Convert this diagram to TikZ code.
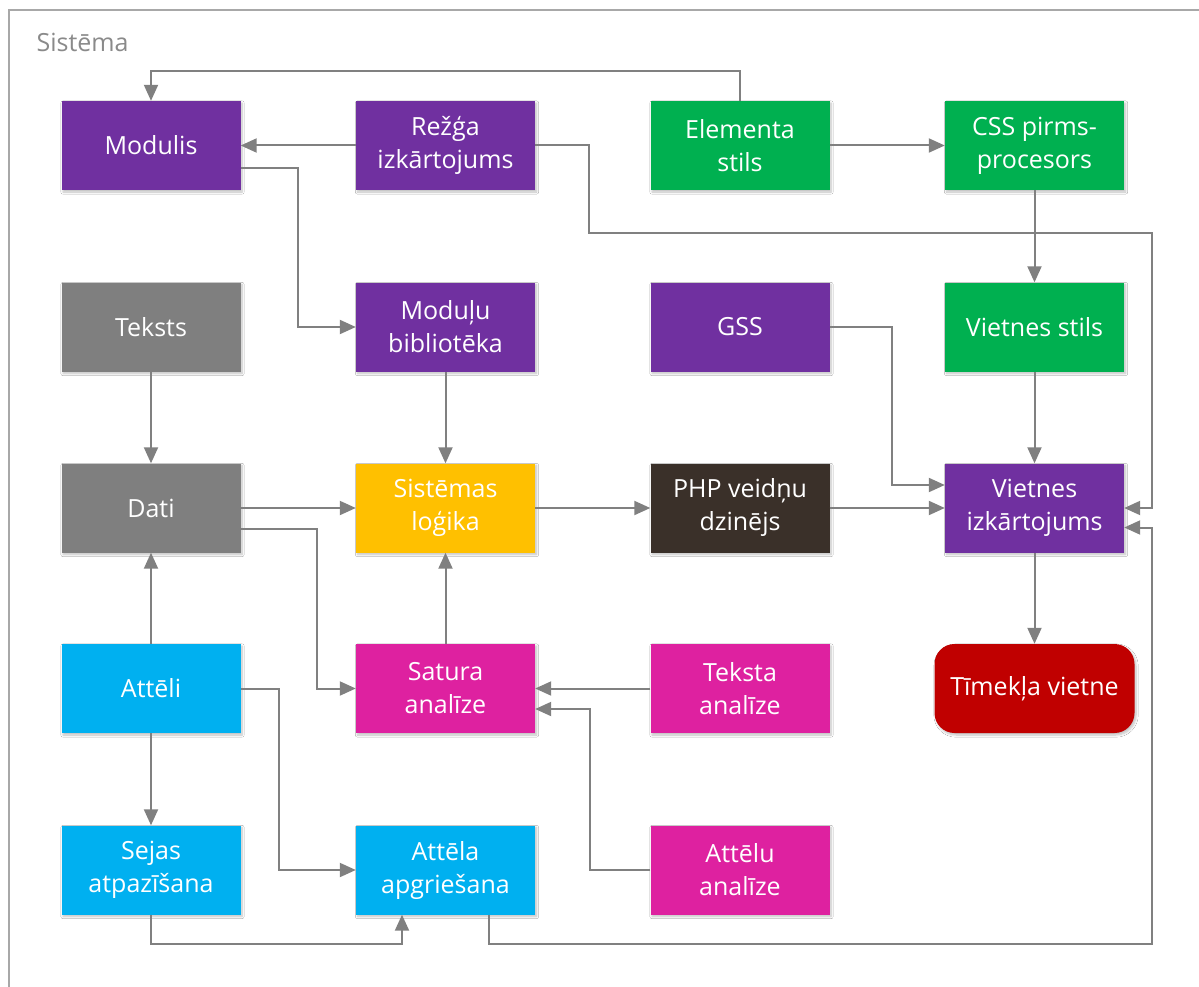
\documentclass[tikz,border=0pt]{standalone}
\usepackage{fontspec}
\setmainfont{Open Sans}
\usetikzlibrary{arrows.meta,calc,shadows.blur}
\definecolor{cpurple}{HTML}{7030A0}
\definecolor{cgreen}{HTML}{00B050}
\definecolor{cgray}{HTML}{7F7F7F}
\definecolor{cgold}{HTML}{FFC000}
\definecolor{cdark}{HTML}{3A3029}
\definecolor{cmag}{HTML}{DE21A0}
\definecolor{ccyan}{HTML}{00B0F0}
\definecolor{cred}{HTML}{C00000}
\definecolor{cline}{HTML}{808080}
\definecolor{cframe}{HTML}{A8A8A8}
\definecolor{clabel}{HTML}{8A8A8A}
\tikzset{
  boxnode/.style={draw=none, minimum width=179pt, minimum height=89pt, inner sep=0pt,
    text=white, align=center, font=\fontsize{25}{33}\selectfont,
    blur shadow={shadow xshift=1.5pt, shadow yshift=-2pt, shadow blur steps=6, shadow opacity=25}},
  conn/.style={draw=cline, line width=2pt, -{Triangle[length=16pt,width=14pt]}},
}
\begin{document}
\begin{tikzpicture}[x=1pt,y=-1pt]
\useasboundingbox (0,0) rectangle (1199,987);
\fill[white] (0,0) rectangle (1199,987);
\draw[cframe, line width=2pt] (1210,10) -- (9,10) -- (9,1000);
\node[anchor=base west, text=clabel, font=\fontsize{25}{28}\selectfont] (lbl) at (33,52) {Sistēma};

% row 1
\node[boxnode, fill=cpurple] (mod) at (151,145.5) {Modulis};
\node[boxnode, fill=cpurple] (rezga) at (445.5,145.5) {Režģa\\izkārtojums};
\node[boxnode, fill=cgreen] (elem) at (740,145.5) {Elementa\\stils};
\node[boxnode, fill=cgreen] (css) at (1034.5,145.5) {CSS pirms-\\procesors};
% row 2
\node[boxnode, fill=cgray] (teksts) at (151,327) {Teksts};
\node[boxnode, fill=cpurple] (lib) at (445.5,327) {Moduļu\\bibliotēka};
\node[boxnode, fill=cpurple] (gss) at (740,327) {GSS};
\node[boxnode, fill=cgreen] (vstils) at (1034.5,327) {Vietnes stils};
% row 3
\node[boxnode, fill=cgray] (dati) at (151,508) {Dati};
\node[boxnode, fill=cgold] (logika) at (445.5,508) {Sistēmas\\loģika};
\node[boxnode, fill=cdark] (php) at (740,508) {PHP veidņu\\dzinējs};
\node[boxnode, fill=cpurple] (viz) at (1034.5,508) {Vietnes\\izkārtojums};
% row 4
\node[boxnode, fill=ccyan] (atteli) at (151,688.5) {Attēli};
\node[boxnode, fill=cmag] (satura) at (445.5,688.5) {Satura\\analīze};
\node[boxnode, fill=cmag] (tanal) at (740,688.5) {Teksta\\analīze};
\node[boxnode, fill=cred, minimum width=200pt, rounded corners=20pt] (web) at (1034.5,688.5) {Tīmekļa vietne};
% row 5
\node[boxnode, fill=ccyan] (sejas) at (151,870) {Sejas\\atpazīšana};
\node[boxnode, fill=ccyan] (apgr) at (445.5,870) {Attēla\\apgriešana};
\node[boxnode, fill=cmag] (aanal) at (740,870) {Attēlu\\analīze};

% connectors
\draw[conn] (elem.north) -- ++(0,-30) -| (mod.north);
\draw[conn] (rezga.west) -- (mod.east);
\draw[conn] ([yshift=-22.5pt]mod.east) -| ($(lib.west)+(-58,0)$) -- (lib.west);
\draw[conn] (rezga.east) -| ($(rezga.east)+(54,87.5)$) -| ($(viz.east)+(28,0)$) -- (viz.east);
\draw[conn] (elem.east) -- (css.west);
\draw[conn] (css.south) -- (vstils.north);
\draw[conn] (vstils.south) -- (viz.north);
\draw[conn] (gss.east) -| ($(viz.west)+(-52.5,-23)$) -- ([yshift=23pt]viz.west);
\draw[conn] (php.east) -- (viz.west);
\draw[conn] (viz.south) -- (web.north);
\draw[conn] (teksts.south) -- (dati.north);
\draw[conn] (lib.south) -- (logika.north);
\draw[conn] (dati.east) -- (logika.west);
\draw[conn] ([yshift=-21pt]dati.east) -| ($(satura.west)+(-39,0)$) -- (satura.west);
\draw[conn] (logika.east) -- (php.west);
\draw[conn] (satura.north) -- (logika.south);
\draw[conn] (tanal.west) -- (satura.east);
\draw[conn] (aanal.west) -| ($(satura.east)+(55,20.5)$) -- ([yshift=-20.5pt]satura.east);
\draw[conn] (atteli.north) -- (dati.south);
\draw[conn] (atteli.east) -| ($(apgr.west)+(-77,0)$) -- (apgr.west);
\draw[conn] (atteli.south) -- (sejas.north);
\draw[conn] (sejas.south) -- ++(0,29.5) -| ([xshift=-43.5pt]apgr.south);
\draw[conn] ([xshift=43.5pt]apgr.south) -- ++(0,29.5) -| ($(viz.east)+(28,19.5)$) -- ([yshift=-19.5pt]viz.east);
\end{tikzpicture}
\end{document}
